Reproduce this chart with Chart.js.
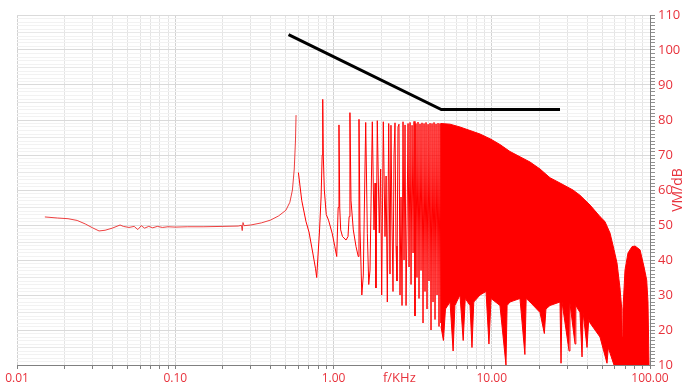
<!DOCTYPE html>
<html>
<head>
<meta charset="utf-8">
<script src="https://cdn.jsdelivr.net/npm/chart.js@4"></script>
<style>
  html, body { margin: 0; padding: 0; background: #ffffff; }
  #wrap { width: 683px; height: 387px; position: relative; }
</style>
</head>
<body>
<div id="wrap"><canvas id="c" width="683" height="387"></canvas></div>
<script>
// ---- data ----
const xTickValues = [0.01, 0.1, 1, 10, 100];
const xTickLabels = ['0.01', '0.10', '1.00', '10.00', '100.00'];
const yLabelValues = [10, 20, 30, 40, 50, 60, 70, 80, 90, 100, 110];

// black limit line
const limitF  = [0.52, 4.8, 27];
const limitDb = [104.4, 83, 83];

// smooth low-frequency part up to first peak
const lowF  = [0.015, 0.018, 0.021, 0.024, 0.027, 0.030, 0.033, 0.036, 0.040, 0.0448, 0.047, 0.051, 0.055, 0.058, 0.061, 0.064, 0.068, 0.072, 0.077, 0.083, 0.090, 0.100, 0.120, 0.150, 0.200, 0.250, 0.262, 0.265, 0.268, 0.272, 0.300, 0.350, 0.400, 0.450, 0.500, 0.530, 0.550, 0.565, 0.575, 0.580];
const lowDb = [52.3, 52.0, 51.8, 51.3, 50.3, 49.2, 48.3, 48.5, 49.1, 50.0, 49.6, 49.3, 49.6, 48.7, 49.8, 49.1, 49.6, 49.2, 49.6, 49.3, 49.5, 49.4, 49.5, 49.5, 49.6, 49.7, 49.9, 48.4, 50.7, 49.8, 50.0, 50.6, 51.4, 52.6, 54.2, 56.5, 60, 66, 74, 81.4];

// resolved harmonic spikes
const midF  = [0.600, 0.630, 0.670, 0.700, 0.740, 0.770, 0.783, 0.795, 0.815, 0.835, 0.848, 0.855, 0.862, 0.875, 0.900, 0.930, 0.980, 1.020, 1.048, 1.070, 1.083, 1.095, 1.110, 1.140, 1.200, 1.235, 1.255, 1.270, 1.290, 1.334, 1.388, 1.434, 1.449, 1.471, 1.510, 1.543, 1.598, 1.636, 1.670, 1.701, 1.759, 1.803, 1.830, 1.855, 1.891, 1.947, 1.985, 2.016, 2.064, 2.116, 2.150, 2.188, 2.233, 2.275, 2.308, 2.340, 2.377, 2.412, 2.447, 2.483, 2.519, 2.556, 2.594, 2.632, 2.671, 2.710, 2.750, 2.790, 2.831, 2.873, 2.915, 2.958, 3.001, 3.046, 3.090, 3.136, 3.182, 3.228, 3.273, 3.321, 3.370, 3.420, 3.470, 3.521, 3.573, 3.625, 3.679, 3.733, 3.787, 3.843, 3.899, 3.957, 4.014, 4.073, 4.133, 4.194, 4.255, 4.318, 4.381, 4.445, 4.511, 4.577, 4.642, 4.710, 4.778];
const midDb = [65, 57, 51, 48, 42, 37.5, 35, 40, 48, 58, 70, 85.9, 70, 60, 53, 51.4, 47.7, 43.8, 41, 55, 78.6, 55, 48.6, 46.7, 45.7, 46.7, 52.4, 82.1, 57, 48.6, 43.8, 41, 80.2, 48.6, 30, 35.7, 79.3, 47.6, 33, 37.1, 79.5, 48.6, 62, 32, 79.8, 47.7, 66, 30, 79.5, 46.7, 64, 28, 79, 36, 78.5, 52, 31, 70, 79.2, 44, 34, 78, 78.8, 30, 58, 27, 79.5, 40, 78.6, 27, 50, 79, 38, 79.3, 33, 78.5, 42, 79.6, 24, 79, 35, 79.4, 29, 78.9, 37, 79.2, 22, 79, 31, 79.3, 26, 78.8, 34, 79.1, 20, 79, 28, 79.3, 23, 78.9, 30, 79.1, 21, 79, 22, 79];

// dense region: upper envelope
const topF  = [4.778, 5.45, 6.3, 7.29, 8.43, 9.89, 11.27, 13.04, 15.08, 17.45, 20.18, 23.34, 27.0, 32.6, 36.1, 41.8, 48.3, 51.9, 55.9, 59.2, 61.9, 64.6, 66.3, 66.8, 67.5, 69.5, 72.6, 76.9, 80.4, 86.5, 91.7, 95.3, 97.1, 98.6];
const topDb = [79, 78.8, 78, 77, 76, 74.5, 73, 71, 69.5, 68, 66, 63.5, 62, 60, 58.5, 55.7, 52.4, 51, 47.7, 43, 39.1, 32, 26, 18, 26, 37.1, 42, 43.8, 44, 42.9, 38, 34.3, 28, 10];

// dense region: lower envelope (with downward spikes)
const botF  = [4.778, 4.95, 5.1, 5.45, 5.7, 5.85, 6.3, 6.6, 6.8, 7.29, 7.5, 7.7, 8.43, 9.2, 9.6, 9.9, 11.27, 12.3, 12.5, 13.04, 15.08, 16.2, 16.5, 17.45, 20.18, 21.5, 22, 23.34, 27.0, 27.4, 27.8, 30.8, 31.2, 33.6, 34.0, 36.1, 37.2, 37.8, 40, 41, 41.8, 48.3, 53.5, 54.5, 55.9, 59.2, 98.6];
const botDb = [21, 17, 26, 28, 14, 27, 30, 17, 29, 27, 15, 28, 30, 31, 16, 29, 27, 10, 27, 28, 29, 13, 29, 28, 25, 19, 26, 27, 28, 10.5, 28, 14, 27.7, 16, 27, 25, 12.3, 25, 15, 23, 22, 18, 10.5, 15, 13.4, 10, 10];

// ---- helpers ----
const pts = (fs, ds) => fs.map((f, i) => ({ x: f, y: ds[i] }));
const labelColor = 'rgb(232,50,60)';
const FONT = '"Open Sans", "Noto Sans", sans-serif';

const titlePlugin = {
  id: 'axisTitles',
  afterDraw(chart) {
    const { ctx, chartArea: a } = chart;
    ctx.save();
    ctx.fillStyle = labelColor;
    ctx.textAlign = 'center';
    ctx.textBaseline = 'middle';
    ctx.font = '13px ' + FONT;
    ctx.fillText('f/KHz', a.left + a.width * 0.604, 378);
    ctx.translate(678, (a.top + a.bottom) / 2);
    ctx.rotate(-Math.PI / 2);
    ctx.font = '14px ' + FONT;
    ctx.fillText('VM/dB', 0, 0);
    ctx.restore();
  }
};

new Chart(document.getElementById('c'), {
  type: 'line',
  data: {
    datasets: [
      { data: pts(limitF, limitDb), borderColor: '#000000', borderWidth: 3, pointRadius: 0, fill: false },
      { data: pts(lowF, lowDb), borderColor: 'rgba(235,30,30,0.85)', borderWidth: 1, pointRadius: 0, fill: false },
      { data: pts(midF, midDb), borderColor: '#ff0000', borderWidth: 1, pointRadius: 0, fill: false },
      { data: pts(topF, topDb), borderColor: '#ff0000', borderWidth: 1, pointRadius: 0, fill: '+1', backgroundColor: '#ff0000' },
      { data: pts(botF, botDb), borderColor: '#ff0000', borderWidth: 1, pointRadius: 0, fill: false }
    ]
  },
  options: {
    responsive: false,
    animation: false,
    elements: { line: { tension: 0 } },
    layout: { padding: { left: 17, top: 15, right: 0, bottom: 0 } },
    plugins: { legend: { display: false }, tooltip: { enabled: false } },
    scales: {
      x: {
        type: 'logarithmic',
        min: 0.01, max: 100,
        afterBuildTicks(scale) {
          const t = [];
          for (let d = 0.01; d < 99; d *= 10) {
            for (let m = 1; m <= 9; m++) t.push({ value: +(d * m).toPrecision(3) });
          }
          t.push({ value: 100 });
          scale.ticks = t;
        },
        afterFit(scale) { scale.height = 22; },
        ticks: {
          autoSkip: false, maxRotation: 0, minRotation: 0, padding: 2,
          color: labelColor, font: { size: 12, family: FONT },
          callback(v) {
            const i = xTickValues.findIndex(x => Math.abs(x - v) / x < 1e-6);
            return i >= 0 ? xTickLabels[i] : '';
          }
        },
        grid: {
          color(ctx) {
            const v = ctx.tick ? ctx.tick.value : 0;
            return xTickValues.some(x => Math.abs(x - v) / x < 1e-6) ? '#d2d2d2' : '#e4e4e4';
          },
          tickColor: '#808080', tickLength: 4, drawTicks: true
        },
        border: { color: '#808080' }
      },
      y: {
        type: 'linear',
        position: 'right',
        min: 10, max: 110,
        afterBuildTicks(scale) {
          const t = [];
          for (let v = 10; v <= 110; v++) t.push({ value: v });
          scale.ticks = t;
        },
        afterFit(scale) { scale.width = 33; },
        ticks: {
          autoSkip: false, padding: 3,
          color: labelColor, font: { size: 13, family: FONT },
          callback(v) { return yLabelValues.includes(v) ? String(v) : ''; }
        },
        grid: {
          color(ctx) {
            const v = ctx.tick ? ctx.tick.value : 0;
            if (v % 10 === 0) return '#dadada';
            if (v % 5 === 0) return '#e8e8e8';
            return '#f2f2f2';
          },
          tickColor: '#909090', tickLength: 5, drawTicks: true
        },
        border: { color: '#808080' }
      }
    }
  },
  plugins: [titlePlugin]
});
</script>
</body>
</html>
